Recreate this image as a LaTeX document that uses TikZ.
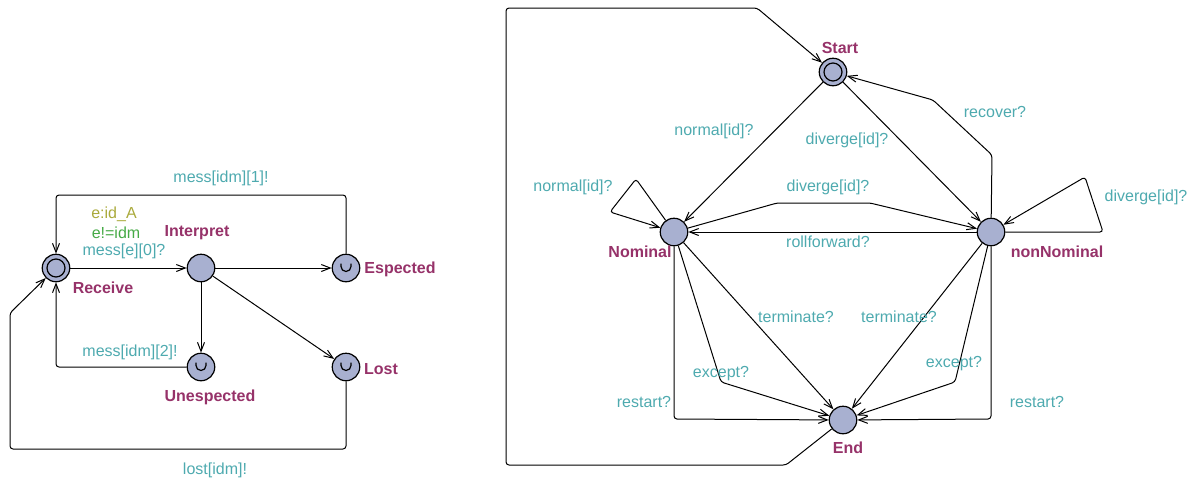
\documentclass[tikz,border=0pt]{standalone}
\usepackage{fontspec}
\setmainfont{Liberation Sans}
\usetikzlibrary{arrows.meta}
\definecolor{locfill}{RGB}{168,176,208}
\definecolor{locname}{RGB}{150,50,105}
\definecolor{synccol}{RGB}{78,170,175}
\definecolor{selcol}{RGB}{170,170,60}
\definecolor{guardcol}{RGB}{70,170,70}
\newcommand\lblsize{\fontsize{16}{19}\selectfont}
\begin{document}
\begin{tikzpicture}[x=1pt,y=-1pt,
  loc/.style={circle, draw, fill=locfill, line width=1.2pt, minimum size=27.5pt, inner sep=0pt},
  locname/.style={font=\lblsize\bfseries, text=locname, inner sep=0pt},
  sync/.style={font=\lblsize, text=synccol, inner sep=0pt},
  sel/.style={font=\lblsize, text=selcol, inner sep=0pt},
  guard/.style={font=\lblsize, text=guardcol, inner sep=0pt},
  trans/.style={line width=1pt, rounded corners=3pt, -{Straight Barb[length=9pt,width=7pt]}},
  innerring/.style={line width=1.2pt},
  urgentmark/.style={line width=1.2pt}
]
\useasboundingbox (0,0) rectangle (1196,480);

% ---------- Message handler ----------
\node[loc] (rec)   at (56,268)  {};
\node[loc] (interp) at (201,268) {};
\node[loc] (esp)   at (346,268) {};
\node[loc] (unesp) at (201,367) {};
\node[loc] (lost)  at (346,367) {};
\draw[innerring] (rec.center) circle[radius=9pt];
\foreach \n in {esp,unesp,lost}
  \draw[urgentmark] ([shift={(-5pt,4.5pt)}]\n.center) -- ++(0pt,-3pt)
      arc[start angle=180, end angle=360, radius=5pt] -- ++(0pt,3pt);

\node[locname] at (103,288) {Receive};
\node[locname] at (197,233) {Interpret};
\node[locname] at (400,269) {Espected};
\node[locname] at (210,397) {Unespected};
\node[locname] at (381,369) {Lost};

\draw[trans] (rec) -- (interp);
\node[sel]   at (114,214) {e:id\_A};
\node[guard] at (116,233) {e!=idm};
\node[sync]  at (124,251) {mess[e][0]?};

\draw[trans] (interp) -- (esp);
\draw[trans] (interp) -- (unesp);
\draw[trans] (interp) -- (lost);

\draw[trans] (esp) -- (346,195) -- (56,195) -- (rec);
\node[sync] at (221,178) {mess[idm][1]!};

\draw[trans] (unesp) -- (56,367) -- (rec);
\node[sync] at (130,352) {mess[idm][2]!};

\draw[trans] (lost) -- (346,449) -- (10,449) -- (10,313) -- (rec);
\node[sync] at (215,470) {lost[idm]!};

% ---------- Status automaton ----------
\node[loc] (start)  at (833,72)  {};
\node[loc] (nom)    at (674,232) {};
\node[loc] (nonnom) at (991,232) {};
\node[loc] (fin)    at (843,420) {};
\draw[innerring] (start.center) circle[radius=9pt];

\node[locname] at (840,48)  {Start};
\node[locname] at (640,252) {Nominal};
\node[locname] at (1057,252) {nonNominal};
\node[locname] at (848,448) {End};

\draw[trans] (start) -- (nom);
\node[sync] at (714,131) {normal[id]?};

\draw[trans] (start) -- (nonnom);
\node[sync] at (847,140) {diverge[id]?};

\draw[trans] (nonnom) -- (992,155) -- (933,100) -- (start);
\node[sync] at (995,112) {recover?};

\draw[trans] (nom) -- (636,179) -- (610,212) -- (nom);
\node[sync] at (573,187) {normal[id]?};

\draw[trans] (nom) -- (777,203) -- (870,203) -- (nonnom);
\node[sync] at (828,187) {diverge[id]?};

\draw[trans] (nonnom) -- (nom);
\node[sync] at (828,242) {rollforward?};

\draw[trans] (nonnom) -- (1103,232) -- (1085,177) -- (nonnom);
\node[sync] at (1146,197) {diverge[id]?};

\draw[trans] (nom) -- (fin);
\node[sync] at (796,317) {terminate?};
\draw[trans] (nonnom) -- (fin);
\node[sync] at (899,317) {terminate?};

\draw[trans] (nom) -- (721,382) -- (fin);
\node[sync] at (721,374) {except?};
\draw[trans] (nonnom) -- (955,382) -- (fin);
\node[sync] at (954,364) {except?};

\draw[trans] (nom) -- (674,419) -- (fin);
\node[sync] at (644,402) {restart?};
\draw[trans] (nonnom) -- (991,419) -- (fin);
\node[sync] at (1037,402) {restart?};

\draw[trans] (fin) -- (786,465) -- (506,465) -- (506,8) -- (757,8) -- (start);
\end{tikzpicture}
\end{document}
